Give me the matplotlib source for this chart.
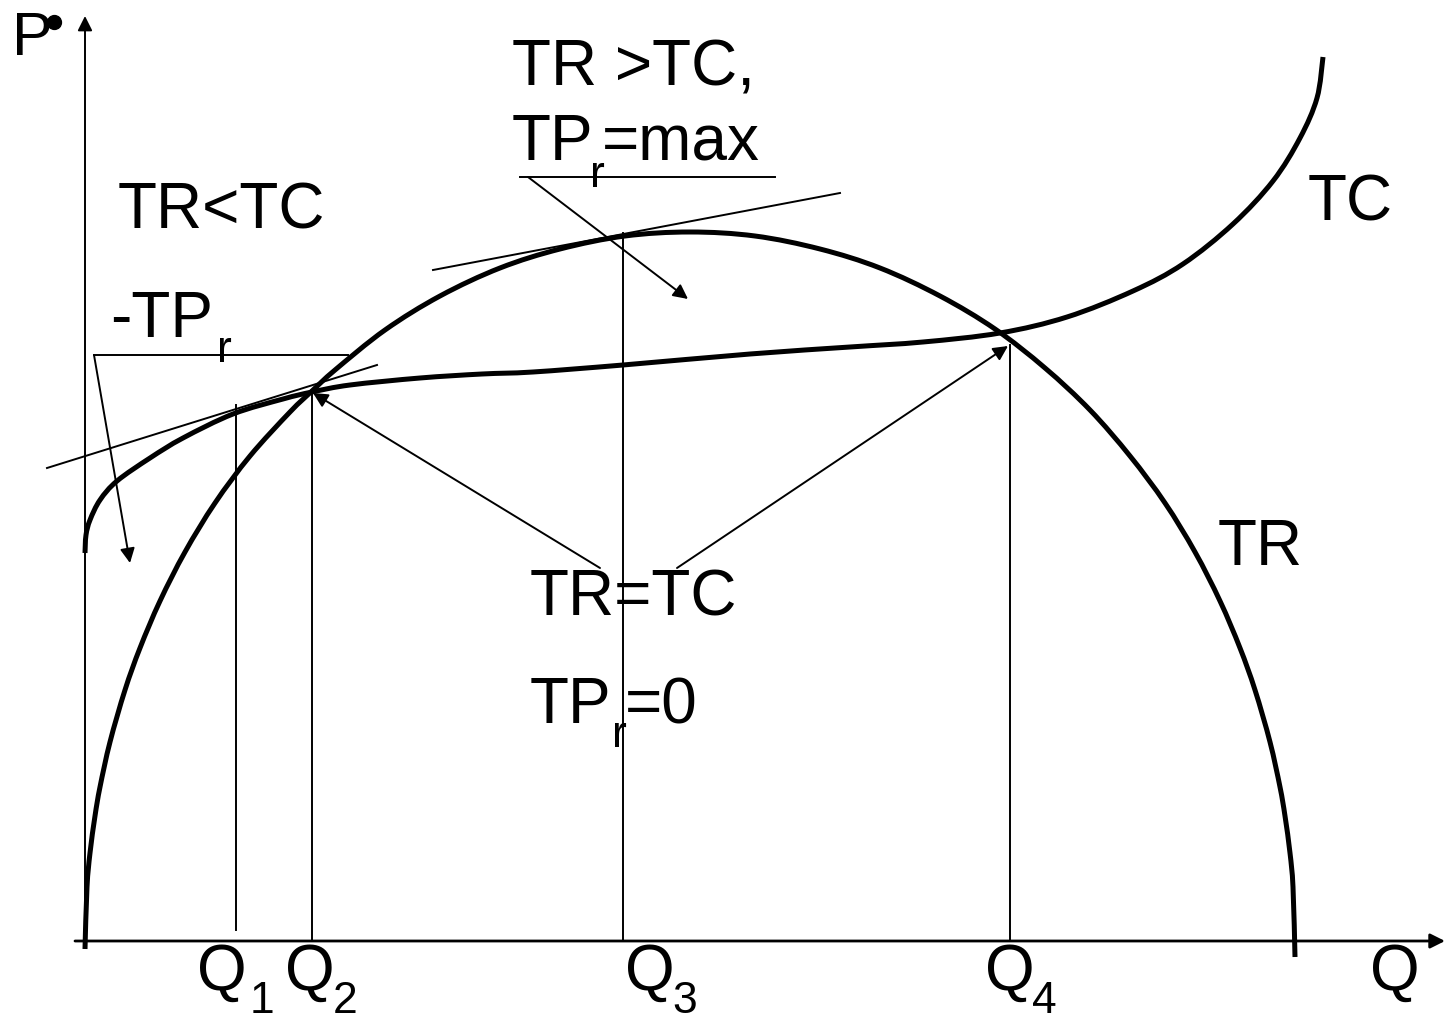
import matplotlib
matplotlib.use('Agg')
import matplotlib.pyplot as plt
import numpy as np
from matplotlib.path import Path
from matplotlib.patches import PathPatch

plt.rcParams['font.family'] = ['Liberation Sans', 'DejaVu Sans']

# TR curve (Q, value); origin at the axes corner
tr_q = [0, 2, 5, 10, 15, 25, 40, 55, 75, 100, 130, 165, 205, 227, 250, 300,
        355, 415, 475, 540, 605, 670, 735, 795, 855, 910, 960, 1005, 1045,
        1080, 1110, 1135, 1155, 1170, 1185, 1195, 1200, 1205, 1208, 1210]
tr_v = [-8, 54, 88, 125, 154, 199, 251, 293, 340, 389, 438, 485, 529, 550, 571, 611,
        645, 673, 692, 705, 709, 705, 692, 673, 645, 612, 573, 531, 485,
        438, 389, 340, 293, 251, 199, 154, 125, 88, 54, -16]

# TC curve
tc_q = [0, 1, 5, 15, 32, 65, 98, 148, 198, 227, 265, 335, 397, 448, 538,
        665, 765, 838, 915, 982, 1048, 1098, 1148, 1188, 1215, 1232, 1238]
tc_v = [388, 406, 421, 441, 460, 483, 503, 527, 542, 549, 556, 563, 567, 569, 576,
        587, 594, 599, 608, 624, 650, 677, 717, 760, 803, 843, 884]

# quantity marks: position, bottom, top of the drop line
q_pos = [151, 227, 538, 925]
q_bottom = [11, 0, 0, 0]
q_top = [536, 549, 708, 596]
# labels under the axis: name position, subscript position
q_name_x = [112, 200, 540, 900]
q_sub_x = [165, 248, 587, 947]
q_subs = ['1', '2', '3', '4']

# tangent lines (two end points each)
tangents = [((-38, 473), (292, 576)), ((348, 671), (755, 748))]


def smooth(xs, ys):
    '''
    smooth path through the given points (Catmull-Rom as Bezier pieces)
    '''
    p = np.column_stack([xs, ys]).astype(float)
    n = len(p)
    verts = [p[0]]
    codes = [Path.MOVETO]
    for i in range(n - 1):
        p0 = p[max(i - 1, 0)]
        p1 = p[i]
        p2 = p[i + 1]
        p3 = p[min(i + 2, n - 1)]
        verts += [p1 + (p2 - p0) / 6.0, p2 - (p3 - p1) / 6.0, p2]
        codes += [Path.CURVE4] * 3
    return Path(verts, codes)


fig = plt.figure(figsize=(14.45, 10.18), dpi=100)
ax = fig.add_axes([0, 0, 1, 1])
ax.set_xlim(-85, 1360)
ax.set_ylim(-77, 941)
ax.axis('off')

thin = 1.4
arr = dict(arrowstyle='-|>', mutation_scale=22, lw=thin, color='k',
           shrinkA=0, shrinkB=0)

# axes
ax.annotate('', xy=(1360, 0), xytext=(-10, 0),
            arrowprops=dict(arr, lw=2.0))
ax.annotate('', xy=(0, 925), xytext=(0, 0), arrowprops=arr)

# curves
for xs, ys in [(tr_q, tr_v), (tc_q, tc_v)]:
    ax.add_patch(PathPatch(smooth(xs, ys), fill=False, edgecolor='k',
                           lw=3.6, capstyle='butt', joinstyle='round'))

# drop lines and labels
fs = 46
sfs = 32
for q, b, t in zip(q_pos, q_bottom, q_top):
    ax.plot([q, q], [b, t], color='k', lw=thin)
for nx, sx, s in zip(q_name_x, q_sub_x, q_subs):
    ax.text(nx, -49, 'Q', fontsize=fs, ha='left', va='baseline')
    ax.text(sx, -72, s, fontsize=sfs, ha='left', va='baseline')
ax.text(1285, -49, 'Q', fontsize=fs, ha='left', va='baseline')

for (a, b) in tangents:
    ax.plot([a[0], b[0]], [a[1], b[1]], color='k', lw=thin)

# P label with dot
ax.text(-73, 886, 'P', fontsize=44, ha='left', va='baseline')
ax.plot([-31], [919], 'o', color='k', ms=10)

# TR<TC region
ax.text(33, 713, 'TR<TC', fontsize=fs, ha='left', va='baseline')
ax.text(25, 604, '-TP', fontsize=fs, ha='left', va='baseline')
ax.text(132, 579, 'r', fontsize=sfs, ha='left', va='baseline')
ax.plot([9, 263], [586, 586], color='k', lw=thin)
ax.annotate('', xy=(45, 378), xytext=(9, 586), arrowprops=arr)

# TR>TC, max profit
ax.text(427, 856, 'TR >TC,', fontsize=fs, ha='left', va='baseline')
ax.text(427, 781, 'TP', fontsize=fs, ha='left', va='baseline')
ax.text(505, 754, 'r', fontsize=sfs, ha='left', va='baseline')
ax.text(517, 781, '=max', fontsize=fs, ha='left', va='baseline')
ax.plot([435, 690], [764, 764], color='k', lw=thin)
ax.annotate('', xy=(603, 642), xytext=(443, 764), arrowprops=arr)

# TR=TC, zero profit
ax.text(445, 326, 'TR=TC', fontsize=fs, ha='left', va='baseline')
ax.text(445, 218, 'TP', fontsize=fs, ha='left', va='baseline')
ax.text(527, 194, 'r', fontsize=sfs, ha='left', va='baseline')
ax.text(540, 218, '=0', fontsize=fs, ha='left', va='baseline')
ax.annotate('', xy=(228, 548), xytext=(515, 373), arrowprops=arr)
ax.annotate('', xy=(923, 595), xytext=(592, 373), arrowprops=arr)

# curve names
ax.text(1223, 721, 'TC', fontsize=fs, ha='left', va='baseline')
ax.text(1133, 376, 'TR', fontsize=fs, ha='left', va='baseline')

fig.savefig('out.png', dpi=100)
